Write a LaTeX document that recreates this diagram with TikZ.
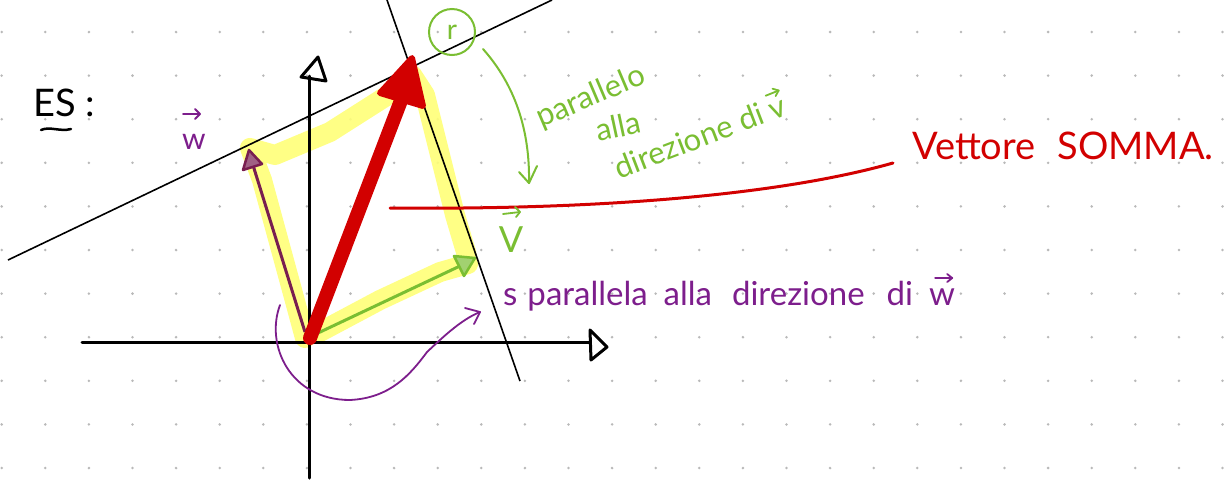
\documentclass[tikz,border=0pt]{standalone}
\usepackage{fontspec}
\setmainfont{Lato}
\usetikzlibrary{arrows.meta,calc}
\definecolor{redc}{RGB}{210,0,0}
\definecolor{yelc}{RGB}{255,255,120}
\definecolor{grnc}{RGB}{122,190,50}
\definecolor{purc}{RGB}{125,30,140}
\definecolor{wvc}{RGB}{120,30,80}
\definecolor{dotc}{RGB}{185,185,185}
\tikzset{
  axis/.style={line width=3pt, line cap=round, line join=round},
  thinline/.style={line width=1.6pt},
  hand/.style={font=\fontsize{31}{33}\selectfont, inner sep=0pt},
  vecarrow/.style={line width=1.8pt, line cap=round, line join=round},
}
\begin{document}
\begin{tikzpicture}[x=1pt,y=-1pt]
\useasboundingbox (0,0) rectangle (1224,483);
\fill[white] (0,0) rectangle (1224,483);
% dot grid
\foreach \i in {0,...,28} \foreach \j in {0,...,10}
  \fill[dotc] ({1.7+43.6*\i},{32+43.6*\j}) circle (1.4);

% coordinates
\coordinate (O) at (310,338);
\coordinate (Wt) at (249,150);
\coordinate (Vt) at (475,258);
\coordinate (St) at (412,58);
\coordinate (xl) at (82,342);
\coordinate (xr) at (590,342);
\coordinate (yb) at (309,478);
\coordinate (yt) at (309,76);
\coordinate (r1) at (8,260);
\coordinate (r2) at (552,0);
\coordinate (s1) at (387,0);
\coordinate (s2) at (520,381);

% yellow highlight
\draw[yelc, line width=20pt, line cap=round, line join=round, opacity=0.9]
  (305,338) -- (292,290) -- (262,180) -- (250,148) -- (275,155) -- (330,132)
  -- (385,97) -- (412,75) -- (425,95) -- (440,155) -- (455,215) -- (466,252)
  -- (468,264) -- (440,272) -- (380,300) -- (318,333);

% black lines r and s
\draw[thinline] (r1) -- (r2);
\draw[thinline] (s1) -- (s2);

% axes
\draw[axis] (xl) -- (xr);
\draw[axis] (590,330) -- (607,347) -- (591,360) -- cycle;
\draw[axis] (yb) -- (yt);
\draw[axis] (301,77) -- (318,57) -- (326,81) -- cycle;

% w vector
\draw[wvc, line width=3pt] (305,332) -- (252,162);
\draw[wvc, line width=2.5pt, line join=round, fill=wvc!70] (Wt) -- (243,170) -- (262,164) -- cycle;

% v vector
\draw[grnc, line width=3pt] (318,333) -- (460,266);
\draw[grnc, line width=2.5pt, line join=round, fill=grnc!70] (Vt) -- (454,256) -- (464,276) -- cycle;

% sum vector
\draw[redc, line width=14pt, line cap=round] (O) -- (405,90);
\draw[redc, line width=6pt, line join=round, fill=redc] (St) -- (380,93) -- (423,106) -- cycle;

% red connector and label
\node[hand, text=redc, font=\fontsize{38}{40}\selectfont, anchor=west] (vs) at (912,146) {Vettore\hspace{22pt}SOMMA.};
\coordinate (rc) at (390,208);
\draw[redc, line width=3pt, line cap=round] (rc) .. controls (600,210) and (780,195) .. (893,163);

% ES label
\node[font=\fontsize{38}{40}\selectfont, inner sep=0pt] (es) at (55,103) {ES};
\draw[line width=2.5pt, line cap=round] (41,130) .. controls (50,126) and (60,132) .. (71,129);
\node[font=\fontsize{38}{40}\selectfont, inner sep=0pt] (col) at (90,107) {:};

% w label
\node[hand, text=purc, font=\fontsize{30}{32}\selectfont] (wl) at (194,142) {w};
\draw[purc, vecarrow] (183,114) -- (200,114);
\draw[purc, vecarrow] (195,109) -- (200,114) -- (195,119);

% v label
\node[hand, text=grnc, font=\fontsize{36}{38}\selectfont] (vl) at (511,240) {V};
\draw[grnc, vecarrow] (503,214) -- (520,212);
\draw[grnc, vecarrow] (515,207) -- (520,212) -- (516,217);

% circle r
\node[draw=grnc, line width=2pt, circle, minimum size=46pt, text=grnc, font=\fontsize{28}{30}\selectfont, inner sep=0pt] (rcirc) at (452,32) {r};
\coordinate (ga) at (529,183);
\draw[grnc, line width=2pt, line cap=round, line join=round] (483,49) .. controls (515,85) and (530,130) .. (ga);
\draw[grnc, line width=2pt, line cap=round, line join=round] (519,172) -- (ga) -- (537,166);

% green text
\begin{scope}[shift={(541,128)}, rotate=23, transform shape]
  \node[hand, text=grnc, anchor=base west] (g1) at (0,0) {parallelo};
  \node[hand, text=grnc, anchor=base west, rotate=-11] (g2) at (47,35) {alla};
  \node[hand, text=grnc, anchor=base west, rotate=-2] (g3) at (52,78) {direzione di v};
\end{scope}
\draw[grnc, vecarrow] ($(g3.base east)+(-23.2,-18.7)$) -- ($(g3.base east)+(-10.2,-23.9)$);
\draw[grnc, vecarrow] ($(g3.base east)+(-16.3,-25.7)$) -- ($(g3.base east)+(-10.2,-23.9)$) -- ($(g3.base east)+(-13.3,-18.3)$);

% purple text and arrow
\node[hand, text=purc, font=\fontsize{33}{35}\selectfont, anchor=base west] (pt) at (503,305) {s\hspace{10pt}parallela\hspace{16pt}alla\hspace{20pt}direzione\hspace{22pt}di\hspace{16pt}w};
\draw[purc, vecarrow] ($(pt.base east)+(-20,-27)$) -- ($(pt.base east)+(-3,-27)$);
\draw[purc, vecarrow] ($(pt.base east)+(-8,-31)$) -- ($(pt.base east)+(-3,-27)$) -- ($(pt.base east)+(-8,-23)$);
\coordinate (ps) at (280,305);
\coordinate (pe) at (480,312);
\draw[purc, line width=1.8pt, line cap=round] (ps) .. controls (265,345) and (290,400) .. (350,400)
  .. controls (390,398) and (410,375) .. (427,352) .. controls (440,340) and (460,320) .. (pe);
\draw[purc, line width=1.8pt, line cap=round, line join=round] (465,308) -- (pe) -- (474,324);
\end{tikzpicture}
\end{document}
